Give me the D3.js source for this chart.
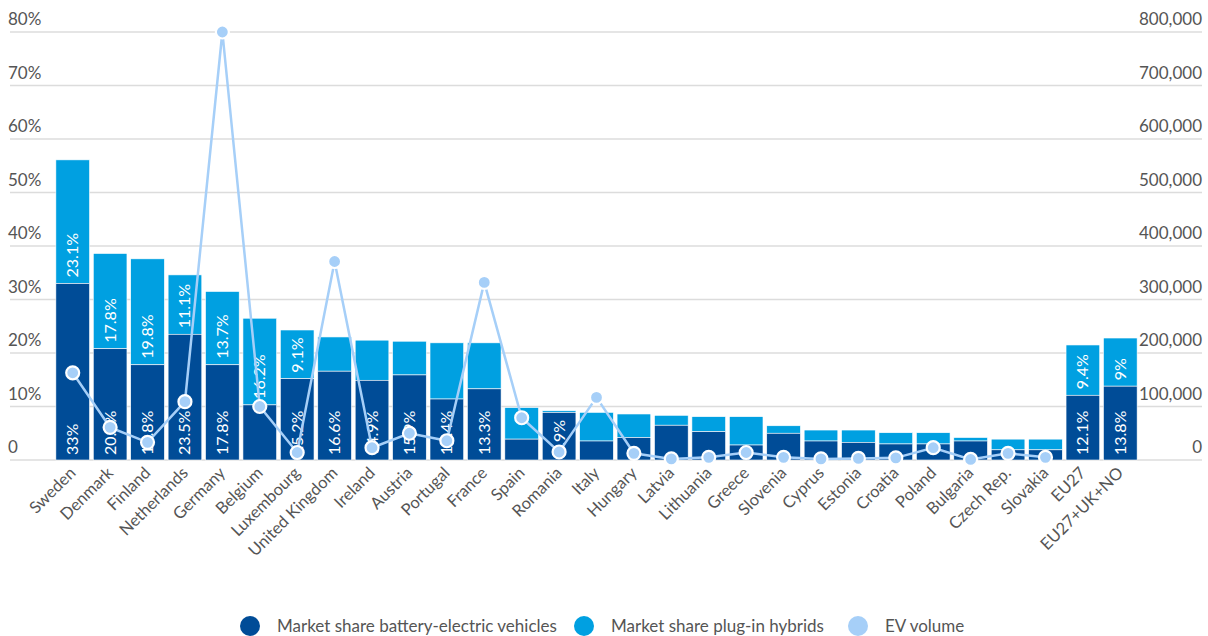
<!DOCTYPE html>
<html>
<head>
<meta charset="utf-8">
<script src="https://cdn.jsdelivr.net/npm/d3@7/dist/d3.min.js"></script>
<style>
  html, body { margin: 0; padding: 0; background: #fff; }
  svg { display: block; font-family: "Source Sans Pro", Lato, "Noto Sans", sans-serif; }
</style>
</head>
<body>
<svg id="chart" width="1208" height="636"></svg>
<script>
const countries = ["Sweden","Denmark","Finland","Netherlands","Germany","Belgium","Luxembourg","United Kingdom","Ireland","Austria","Portugal","France","Spain","Romania","Italy","Hungary","Latvia","Lithuania","Greece","Slovenia","Cyprus","Estonia","Croatia","Poland","Bulgaria","Czech Rep.","Slovakia","EU27","EU27+UK+NO"];
const bevShare  = [33, 20.8, 17.8, 23.5, 17.8, 10.3, 15.2, 16.6, 14.9, 15.9, 11.4, 13.3, 3.9, 8.9, 3.55, 4.2, 6.5, 5.3, 2.8, 5.0, 3.55, 3.3, 3.0, 3.0, 3.55, 1.9, 1.9, 12.1, 13.8];
const phevShare = [23.1, 17.8, 19.8, 11.1, 13.7, 16.2, 9.1, 6.4, 7.5, 6.3, 10.5, 8.6, 5.9, 0.3, 5.35, 4.4, 1.85, 2.8, 5.3, 1.4, 2.05, 2.3, 2.1, 2.1, 0.65, 2.0, 2.0, 9.4, 9.0];
const bevLabels  = ["33%","20.8%","17.8%","23.5%","17.8%",null,"15.2%","16.6%","14.9%","15.9%","11.4%","13.3%",null,"8.9%",null,null,null,null,null,null,null,null,null,null,null,null,null,"12.1%","13.8%"];
const phevLabels = ["23.1%","17.8%","19.8%","11.1%","13.7%","16.2%","9.1%",null,null,null,null,null,null,null,null,null,null,null,null,null,null,null,null,null,null,null,null,"9.4%","9%"];
const evVolume = [163000, 61000, 33000, 109000, 800000, 100000, 14000, 371000, 23000, 50000, 36000, 332000, 79000, 15000, 117000, 12500, 2000, 5000, 14000, 5000, 2000, 3000, 4000, 23000, 1000, 12500, 5000, null, null];
const leftTicks = [0, 10, 20, 30, 40, 50, 60, 70, 80];
const rightTicks = [0, 100000, 200000, 300000, 400000, 500000, 600000, 700000, 800000];
const legendItems = ["Market share battery-electric vehicles", "Market share plug-in hybrids", "EV volume"];

const C_BEV = "#004c97", C_PHEV = "#00a0e1", C_EV = "#a6cff8";

const svg = d3.select("#chart");
const x = d3.scaleBand().domain(countries).range([54, 1139]).paddingInner(0.1).paddingOuter(0.05);
const yL = d3.scaleLinear().domain([0, 80]).range([460, 32]);
const yR = d3.scaleLinear().domain([0, 800000]).range([460, 32]);

// gridlines
svg.append("g").selectAll("line").data(leftTicks).join("line")
  .attr("x1", 10).attr("x2", 1202)
  .attr("y1", d => yL(d)).attr("y2", d => yL(d))
  .attr("stroke", "#dcdcdc").attr("stroke-width", 1.5);

// left tick labels
svg.append("g").selectAll("text").data(leftTicks).join("text")
  .attr("x", 8).attr("y", d => yL(d) - 7)
  .attr("font-size", 17).attr("fill", "#555")
  .text(d => d === 0 ? "0" : d + "%");

// right tick labels
const fmt = d3.format(",");
svg.append("g").selectAll("text").data(rightTicks).join("text")
  .attr("x", 1202).attr("y", d => yR(d) - 7)
  .attr("text-anchor", "end")
  .attr("font-size", 17).attr("fill", "#555")
  .text(d => fmt(d));

// bars
const bw = x.bandwidth();
const g = svg.append("g");
countries.forEach((c, i) => {
  const b = bevShare[i], p = phevShare[i];
  g.append("rect").attr("x", x(c)).attr("width", bw)
    .attr("y", yL(b + p)).attr("height", yL(b) - yL(b + p))
    .attr("fill", C_PHEV).attr("stroke", "#fff").attr("stroke-width", 0.6);
  g.append("rect").attr("x", x(c)).attr("width", bw)
    .attr("y", yL(b)).attr("height", yL(0) - yL(b))
    .attr("fill", C_BEV).attr("stroke", "#fff").attr("stroke-width", 0.6);
});

// bar labels
const lab = svg.append("g").attr("fill", "#fff").attr("font-size", 16);
countries.forEach((c, i) => {
  const cx = x(c) + bw / 2 + 5.5;
  if (bevLabels[i]) {
    const yy = yL(0) - 5;
    lab.append("text").attr("transform", `translate(${cx},${yy}) rotate(-90)`).text(bevLabels[i]);
  }
  if (phevLabels[i]) {
    const yy = yL(bevShare[i]) - 6;
    lab.append("text").attr("transform", `translate(${cx},${yy}) rotate(-90)`).text(phevLabels[i]);
  }
});

// EV volume line
const pts = countries.map((c, i) => ({c, v: evVolume[i]})).filter(d => d.v != null);
const line = d3.line().x(d => x(d.c) + bw / 2).y(d => yR(d.v));
svg.append("path").datum(pts).attr("d", line)
  .attr("fill", "none").attr("stroke", C_EV).attr("stroke-width", 2.5);
svg.append("g").selectAll("circle").data(pts).join("circle")
  .attr("cx", d => x(d.c) + bw / 2).attr("cy", d => yR(d.v)).attr("r", 6.5)
  .attr("fill", C_EV).attr("stroke", "#fff").attr("stroke-width", 2.2);

// x labels
svg.append("g").selectAll("text").data(countries).join("text")
  .attr("transform", d => `translate(${x(d) + bw / 2 + 4},${474}) rotate(-45)`)
  .attr("text-anchor", "end").attr("font-size", 16.5).attr("fill", "#555")
  .text(d => d);

// legend
const legX = [250, 584, 858];
const legColors = [C_BEV, C_PHEV, C_EV];
const leg = svg.append("g");
legendItems.forEach((t, i) => {
  leg.append("circle").attr("cx", legX[i]).attr("cy", 626).attr("r", 10).attr("fill", legColors[i]);
  leg.append("text").attr("x", legX[i] + 27).attr("y", 632).attr("font-size", 17).attr("fill", "#555").text(t);
});
</script>
</body>
</html>
